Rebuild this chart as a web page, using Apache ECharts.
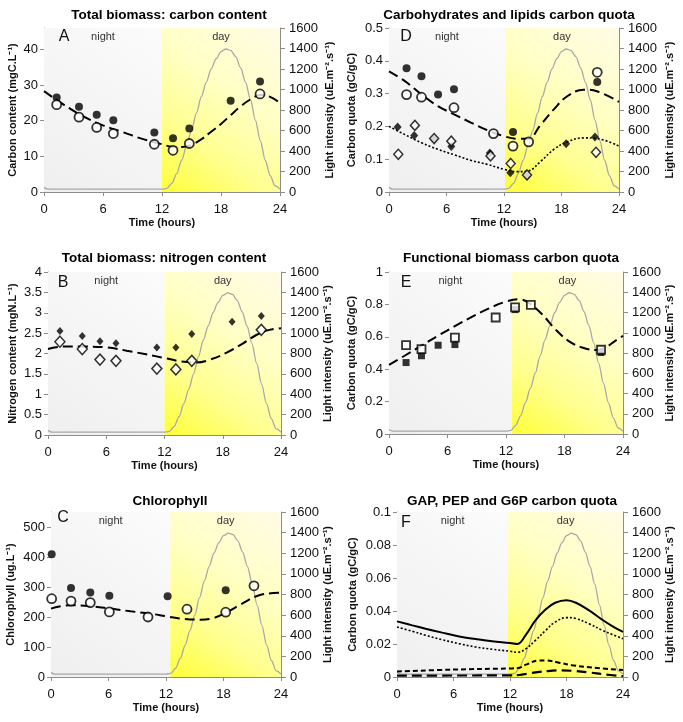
<!DOCTYPE html>
<html><head><meta charset="utf-8">
<script src="https://cdn.jsdelivr.net/npm/echarts@6/dist/echarts.min.js"></script>
<style>html,body{margin:0;padding:0;background:#fff}#c{width:683px;height:722px}</style>
</head><body><div id="c"></div>
<script>
// ---------------- data ----------------
const xTicks = [0, 6, 12, 18, 24];
const lightHours  = [0,0.4,2,4,6,8,10,12,12.5,13,13.5,14,14.5,15,15.5,16,16.5,17,17.5,18,18.5,19,19.5,20,20.5,21,21.5,22,22.5,23,23.5,24];
const lightValues = [45,28,28,28,28,28,28,28,35,85,180,310,450,600,770,930,1070,1200,1300,1370,1395,1380,1320,1210,1070,900,700,500,310,160,60,28];

// A: total biomass carbon
const A_filledCircles = [[1.29,26.5],[3.56,23.9],[5.36,21.7],[7.05,20.1],[11.22,16.7],[13.12,15.1],[14.78,17.8],[18.98,25.6],[21.97,31.0]];
const A_openCircles   = [[1.29,24.5],[3.56,21.0],[5.36,18.1],[7.05,16.4],[11.22,13.4],[13.12,11.7],[14.78,13.6],[21.97,27.5]];
const A_model = [[0,28.3],[2,24.5],[4,21.2],[6,18.7],[8,16.8],[10,14.9],[12,13.4],[13,12.7],[14,12.6],[15,13.2],[16,14.8],[17,16.9],[18,19.1],[19,21.6],[20,24.0],[21,26.0],[22,27.2],[23,26.7],[24,25.0]];

// D: carbohydrates and lipids carbon quota
const D_filledCircles  = [[1.83,0.377],[3.39,0.353],[5.12,0.297],[6.78,0.313],[12.94,0.183],[21.73,0.335]];
const D_openCircles    = [[1.83,0.297],[3.39,0.289],[6.78,0.257],[10.9,0.178],[12.94,0.140],[14.57,0.153],[21.73,0.365]];
const D_filledDiamonds = [[0.9,0.198],[2.63,0.172],[4.71,0.162],[6.5,0.139],[10.52,0.119],[12.66,0.059],[14.4,0.049],[18.48,0.147],[21.49,0.168]];
const D_openDiamonds   = [[0.97,0.115],[2.7,0.203],[4.71,0.163],[6.5,0.155],[10.59,0.110],[12.7,0.087],[14.4,0.052],[21.6,0.121]];
const D_modelCarb  = [[0,0.368],[1.66,0.338],[3.4,0.297],[5.1,0.262],[6.85,0.236],[8.6,0.211],[10.3,0.188],[12,0.170],[13.4,0.162],[14.5,0.162],[15.85,0.206],[17.2,0.252],[18.6,0.292],[20.3,0.312],[21.7,0.307],[24,0.275]];
const D_modelLipid = [[0,0.200],[1.66,0.175],[3.4,0.150],[5.1,0.130],[6.85,0.113],[8.6,0.096],[10.3,0.084],[12,0.069],[13.4,0.062],[14.5,0.064],[15.85,0.094],[17.2,0.130],[18.6,0.153],[20.3,0.165],[21.7,0.163],[24,0.140]];

// B: total biomass nitrogen
const B_filledDiamonds = [[1.23,2.55],[3.53,2.43],[5.35,2.30],[7.0,2.25],[11.21,2.15],[13.17,2.15],[14.81,2.48],[18.96,2.78],[21.97,2.92]];
const B_openDiamonds   = [[1.23,2.29],[3.53,2.11],[5.35,1.85],[7.0,1.82],[11.21,1.63],[13.17,1.61],[14.81,1.82],[21.97,2.58]];
const B_model = [[0,2.11],[1.6,2.17],[3.6,2.17],[6,2.15],[8.1,2.07],[10.1,1.98],[12,1.89],[13.6,1.81],[15.3,1.78],[16.7,1.85],[18.4,2.02],[20.1,2.25],[21.5,2.46],[22.8,2.58],[24,2.62]];

// E: functional biomass carbon quota
const E_filledSquares = [[1.75,0.441],[3.33,0.483],[5.04,0.548],[6.76,0.552],[12.93,0.768],[21.75,0.503]];
const E_openSquares   = [[1.75,0.548],[3.33,0.524],[6.76,0.595],[10.94,0.719],[12.93,0.782],[14.55,0.797],[21.75,0.520]];
const E_model = [[0,0.427],[1.6,0.483],[3.3,0.544],[5.0,0.606],[6.8,0.667],[8.5,0.723],[10.2,0.774],[11.9,0.815],[13.3,0.832],[14.3,0.811],[15.7,0.739],[17.05,0.647],[18.4,0.575],[19.8,0.534],[21.2,0.519],[22.2,0.534],[23.2,0.575],[24,0.606]];

// C: chlorophyll
const C_filledCircles = [[0.07,409],[2.09,297],[4.10,282],[6.09,271],[12.17,269],[18.23,289]];
const C_openCircles   = [[0.07,261],[2.09,253],[4.10,248],[6.09,217],[10.12,200],[14.19,226],[18.23,216],[21.18,304]];
const C_model = [[0,228],[2,239],[4.1,236],[6.2,228],[8.3,219],[10.4,211],[12.1,202],[13.8,194],[15.6,191],[17,197],[18.4,217],[19.8,242],[21.5,270],[23.2,280],[24,281]];

// F: GAP, PEP and G6P carbon quota
const F_solid  = [[0,0.0337],[1.63,0.0313],[3.04,0.0293],[4.8,0.0269],[6.6,0.0246],[8.35,0.0230],[10.1,0.0216],[12,0.0206],[12.8,0.0200],[13.7,0.0257],[14.7,0.0343],[15.8,0.0410],[16.8,0.0450],[18,0.0465],[19,0.0450],[20.4,0.0404],[21.8,0.0347],[22.9,0.0307],[24,0.0273]];
const F_dotted = [[0,0.0303],[1.63,0.0277],[3.04,0.0253],[4.8,0.0226],[6.6,0.0202],[8.35,0.0182],[10.1,0.0168],[12,0.0156],[12.8,0.0150],[13.7,0.0172],[14.7,0.0222],[15.8,0.0283],[16.8,0.0333],[18,0.0360],[19,0.0354],[20.4,0.0323],[21.8,0.0283],[22.9,0.0257],[24,0.0232]];
const F_shortDash = [[0,0.0033],[6,0.0045],[12,0.0052],[13,0.0056],[13.7,0.0075],[15.1,0.0100],[15.8,0.0100],[17.2,0.0087],[18.6,0.0071],[20.7,0.0057],[24,0.0042]];
const F_longDash  = [[0,0.0008],[6,0.0009],[12,0.0010],[13,0.0012],[14,0.0022],[16,0.0036],[17.5,0.0040],[19,0.0036],[20.5,0.0027],[22,0.0016],[24,0.0005]];

// ---------------- styling / layout ----------------
const FONT = "'Liberation Sans',Arial,sans-serif";
const AXIS_GREY = '#8c8c8c';
const TICK_FS = 13, NAME_FS = 11, TITLE_FS = 13.5;
const lightData = lightHours.map((h, i) => [h, lightValues[i]]);

const filledCircle = d => ({type:'scatter', data:d, symbol:'circle', symbolSize:8, itemStyle:{color:'#000'}, z:5});
const openCircle   = d => ({type:'scatter', data:d, symbol:'circle', symbolSize:9, itemStyle:{color:'#fff', borderColor:'#000', borderWidth:1.8}, z:6});
const filledDiamond = (d, s) => ({type:'scatter', data:d, symbol:'diamond', symbolSize:s||[8,9], itemStyle:{color:'#000'}, z:5});
const openDiamond   = (d, s) => ({type:'scatter', data:d, symbol:'diamond', symbolSize:s||[9,10], itemStyle:{color:'#fff', borderColor:'#000', borderWidth:1.5}, z:6});
const filledSquare = d => ({type:'scatter', data:d, symbol:'rect', symbolSize:7, itemStyle:{color:'#000'}, z:5});
const openSquare   = d => ({type:'scatter', data:d, symbol:'rect', symbolSize:8, itemStyle:{color:'#fff', borderColor:'#000', borderWidth:1.8}, z:6});
const modelLine = (d, type, width) => ({type:'line', data:d, smooth:0.4, showSymbol:false, symbol:'none', lineStyle:{color:'#000', width:width||2, type:type||[10,5]}, z:4});

const panels = [
  {letter:'A', title:'Total biomass: carbon content', rect:{left:44,top:28,width:236,height:164}, titleX:164, titleTop:3,
   yMax:46, yInterval:10, yVals:[0,10,20,30,40], yName:'Carbon content (mgC.L⁻¹)', yGap:26, rGap:44, dayStart:12, letterPos:[64,37],
   series:[modelLine(A_model), filledCircle(A_filledCircles), openCircle(A_openCircles)]},
  {letter:'D', title:'Carbohydrates and lipids carbon quota', rect:{left:389,top:28,width:230,height:164}, titleX:504, titleTop:3,
   yMax:0.5, yInterval:0.1, yName:'Carbon quota (gC/gC)', yGap:32, rGap:45, dayStart:12.1, letterPos:[406,37],
   series:[modelLine(D_modelCarb), modelLine(D_modelLipid,[2,2],1.6), filledCircle(D_filledCircles), openCircle(D_openCircles), filledDiamond(D_filledDiamonds), openDiamond(D_openDiamonds)]},
  {letter:'B', title:'Total biomass: nitrogen content', rect:{left:48,top:272,width:233,height:163}, titleX:159, titleTop:246,
   yMax:4, yInterval:0.5, yName:'Nitrogen content (mgN.L⁻¹)', yGap:30, rGap:41, dayStart:12, letterPos:[63,283],
   series:[modelLine(B_model), filledDiamond(B_filledDiamonds,[7,8]), openDiamond(B_openDiamonds,[10,11])]},
  {letter:'E', title:'Functional biomass carbon quota', rect:{left:389,top:272,width:234,height:162}, titleX:506, titleTop:246,
   yMax:1, yInterval:0.2, yName:'Carbon quota (gC/gC)', yGap:32, rGap:41, dayStart:12.6, letterPos:[406,283],
   series:[modelLine(E_model), filledSquare(E_filledSquares), openSquare(E_openSquares)]},
  {letter:'C', title:'Chlorophyll', rect:{left:51,top:512,width:230,height:165}, titleX:165, titleTop:489,
   yMax:550, yInterval:100, yVals:[0,100,200,300,400,500], yName:'Chlorophyll (ug.L⁻¹)', yGap:35, rGap:41, dayStart:12.45, letterPos:[63,518],
   series:[modelLine(C_model), filledCircle(C_filledCircles), openCircle(C_openCircles)]},
  {letter:'F', title:'GAP, PEP and G6P carbon quota', rect:{left:397,top:512,width:226,height:165}, titleX:507, titleTop:489,
   yMax:0.1, yInterval:0.02, yName:'Carbon quota (gC/gC)', yGap:39, rGap:41, dayStart:11.8, letterPos:[406,523],
   series:[modelLine(F_solid,'solid',2), modelLine(F_dotted,[2,2],1.6), modelLine(F_shortDash,[5,3],2), modelLine(F_longDash,[10,5],2.2)]}
];

const nightGrad = {type:'linear', x:0, y:1, x2:1, y2:0, colorStops:[{offset:0,color:'#efefef'},{offset:1,color:'#fbfbfb'}]};
const dayGrad   = {type:'linear', x:0, y:1, x2:1, y2:0, colorStops:[{offset:0,color:'#ffff38'},{offset:0.3,color:'#ffff90'},{offset:0.6,color:'#ffffc4'},{offset:1,color:'#fffbe6'}]};

const plainNum = v => String(+v.toFixed(4));
const option = {animation:false, backgroundColor:'#fff', title:[], grid:[], xAxis:[], yAxis:[], series:[], graphic:[]};

panels.forEach((p, i) => {
  option.title.push({text:p.title, left:p.titleX, top:p.titleTop, textAlign:'center',
    textStyle:{fontSize:TITLE_FS, fontWeight:'bold', fontFamily:FONT, color:'#000'}});
  option.grid.push(Object.assign({containLabel:false}, p.rect));
  option.xAxis.push({type:'value', gridIndex:i, min:0, max:24, interval:6,
    axisLine:{show:true, lineStyle:{color:AXIS_GREY}}, axisTick:{show:true, length:4, lineStyle:{color:AXIS_GREY}},
    splitLine:{show:false}, axisLabel:{fontSize:TICK_FS, fontFamily:FONT, color:'#111', margin:11, customValues:xTicks, formatter:plainNum},
    name:'Time (hours)', nameLocation:'middle', nameGap:25,
    nameTextStyle:{fontSize:NAME_FS, fontWeight:'bold', fontFamily:FONT, color:'#111'}});
  const leftLabel = {fontSize:TICK_FS, fontFamily:FONT, color:'#111', margin:6, formatter:plainNum};
  const leftTick = {show:true, length:4, lineStyle:{color:AXIS_GREY}};
  if (p.yVals) { leftLabel.customValues = p.yVals; leftTick.customValues = p.yVals; }
  option.yAxis.push({type:'value', gridIndex:i, position:'left', min:0, max:p.yMax, interval:p.yInterval,
    axisLine:{show:true, lineStyle:{color:AXIS_GREY}}, axisTick:leftTick, splitLine:{show:false}, axisLabel:leftLabel,
    name:p.yName, nameLocation:'middle', nameRotate:90, nameGap:p.yGap,
    nameTextStyle:{fontSize:NAME_FS, fontWeight:'bold', fontFamily:FONT, color:'#111'}});
  option.yAxis.push({type:'value', gridIndex:i, position:'right', min:0, max:1600, interval:200,
    axisLine:{show:true, lineStyle:{color:AXIS_GREY}}, axisTick:{show:true, length:5, lineStyle:{color:AXIS_GREY}},
    splitLine:{show:false}, axisLabel:{fontSize:TICK_FS, fontFamily:FONT, color:'#111', margin:9, formatter:plainNum},
    name:'Light intensity (uE.m⁻².s⁻¹)', nameLocation:'middle', nameRotate:90, nameGap:p.rGap,
    nameTextStyle:{fontSize:NAME_FS, fontWeight:'bold', fontFamily:FONT, color:'#111'}});
  // light curve carrying night/day background
  option.series.push({type:'line', xAxisIndex:i, yAxisIndex:2*i+1, data:lightData, smooth:0.3, smoothMonotone:'x',
    showSymbol:false, symbol:'none', lineStyle:{color:'#a8a8a8', width:1.3}, z:2, silent:true,
    markArea:{silent:true, label:{show:true, position:'insideTop', distance:3, fontSize:11, fontFamily:FONT, color:'#333'},
      data:[[{name:'night', xAxis:0, itemStyle:{color:nightGrad}}, {xAxis:p.dayStart}],
            [{name:'day', xAxis:p.dayStart, itemStyle:{color:dayGrad}}, {xAxis:24}]]}});
  p.series.forEach(s => { s.xAxisIndex = i; s.yAxisIndex = 2*i; option.series.push(s); });
  option.graphic.push({type:'text', x:p.letterPos[0], y:p.letterPos[1], z:100,
    style:{text:p.letter, fontSize:16, fontFamily:FONT, fill:'#111', align:'center', verticalAlign:'middle'}});
});

const chart = echarts.init(document.getElementById('c'), null, {renderer:'canvas'});
chart.setOption(option);
</script>
</body></html>
